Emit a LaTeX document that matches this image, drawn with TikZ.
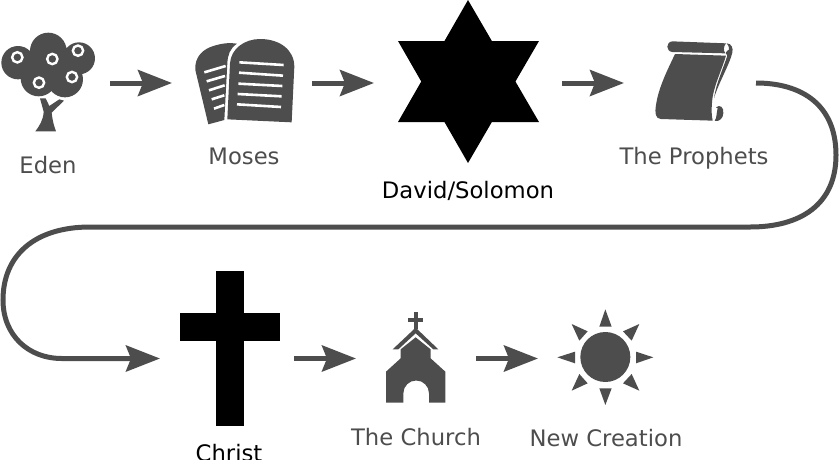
\documentclass[tikz,border=0pt]{standalone}
\usepackage{fontspec}
\setmainfont{DejaVu Sans}
\usetikzlibrary{arrows.meta}
\definecolor{ink}{HTML}{4D4D4D}
\tikzset{
  slot/.style={inner sep=0pt,outer sep=0pt,minimum height=2pt,minimum width=#1},
  flow/.style={draw=ink,line width=5pt,-{Stealth[length=34pt,width=26pt,inset=5pt]}},
  lab/.style={anchor=base,inner sep=0pt,text=ink,font=\fontsize{22.7}{26}\selectfont},
  blab/.style={lab,text=black},
  zoomA/.style={shift={(#1)},x=0.3333pt,y=-0.3333pt},
  gap/.style={draw=white,line width=2.6pt,line cap=butt},
  ring/.style={draw=white,fill=ink,line width=2.4pt}
}
\begin{document}
\begin{tikzpicture}[x=1pt,y=-1pt]
\useasboundingbox (0,0) rectangle (840,459);
% anchor slots for the connectors
\node[slot=124] (eden) at (48,83) {};
\node[slot=140] (moses) at (242,83) {};
\node[slot=188] (david) at (468,83) {};
\node[slot=132] (prophets) at (690,83) {};
\node[slot=134] (christ) at (227,358.5) {};
\node[slot=120] (church) at (416,358.5) {};
\node[slot=134] (newc) at (605,358.5) {};
% tree
\begin{scope}[zoomA={0,20}]
  \fill[ink] (145,93) circle (55) (54,128) circle (50) (237,115) circle (48)
    (116,175) circle (54) (195,178) circle (54) (145,130) circle (60);
  \fill[ink] (120,235) -- (137,235) -- (148,258) -- (178,238) -- (192,242) -- (155,278)
    .. controls (157,300) and (162,318) .. (168,334) -- (106,334)
    .. controls (118,318) and (130,300) .. (131,275) -- cycle;
  \draw[ring] (52,112) circle (15.5) (157,117) circle (15.5) (234,92) circle (15.5)
    (117,188) circle (15.5) (216,171) circle (15.5);
\end{scope}
% tablets
\begin{scope}[zoomA={185,25}]
  \fill[ink] (70,298) -- (31,135) .. controls (28,95) and (55,72) .. (85,63)
    .. controls (110,55) and (135,52) .. (156,56)
    .. controls (135,70) and (128,90) .. (127,115) -- (118,285) -- cycle;
  \fill[ink] (127,283) -- (135,115) .. controls (138,70) and (180,42) .. (225,42)
    .. controls (285,42) and (328,75) .. (328,125) -- (320,292) -- cycle;
  \draw[gap] (163,112) -- (296,120) (162,143) -- (294,152) (160,176) -- (292,183)
    (158,207) -- (290,214) (156,238) -- (288,246);
  \draw[gap] (58,142) -- (122,123) (65,169) -- (120,153) (72,196) -- (119,181)
    (80,223) -- (118,211) (87,251) -- (118,240);
\end{scope}
% star
\fill[black] (468,0) -- (539,122) -- (398,122) -- cycle;
\fill[black] (468,163) -- (398,41) -- (539,41) -- cycle;
% scroll
\begin{scope}[zoomA={640,30}]
  \fill[ink] (97,34) -- (258,40) .. controls (250,50) and (250,62) .. (256,70) -- (97,66)
    .. controls (77,64) and (77,36) .. (97,34) -- cycle;
  \fill[ink] (105,72) -- (258,77) .. controls (245,120) and (225,160) .. (218,200)
    .. controls (214,230) and (214,255) .. (218,272) -- (62,267)
    .. controls (46,265) and (44,250) .. (48,225)
    .. controls (56,170) and (85,115) .. (105,72) -- cycle;
  % upper curl
  \fill[ink] (260,40) .. controls (275,40) and (280,55) .. (277,68)
    .. controls (268,105) and (235,160) .. (222,205)
    .. controls (228,160) and (250,115) .. (262,77)
    .. controls (255,72) and (256,65) .. (262,62)
    .. controls (270,62) and (268,48) .. (260,40) -- cycle;
  % lower curl
  \fill[ink] (228,232) .. controls (240,222) and (252,232) .. (250,250)
    .. controls (249,266) and (238,275) .. (224,273)
    .. controls (231,262) and (229,250) .. (232,240)
    .. controls (236,236) and (232,233) .. (228,232) -- cycle;
  \fill[ink] (233,250) .. controls (238,245) and (243,250) .. (241,256)
    .. controls (238,262) and (232,258) .. (233,250) -- cycle;
\end{scope}
% cross
\fill[black] (216,271) rectangle (244,426);
\fill[black] (180,313) rectangle (280,341);
% church
\begin{scope}[zoomA={370,305}]
  \fill[ink] (131,22) rectangle (143,72);
  \fill[ink] (115,38) rectangle (160,50);
  \fill[ink] (68,133) -- (137,68) -- (205,133) -- (190,133) -- (137,85) -- (85,133) -- cycle;
  \fill[ink] (48,293) -- (48,200) -- (92,160) -- (92,133) -- (137,97) -- (182,133)
    -- (182,160) -- (226,200) -- (226,293) -- (177,293) -- (177,265)
    arc[start angle=0,end angle=-180,x radius=38.5,y radius=38.5] -- (100,293) -- cycle;
\end{scope}
% sun
\begin{scope}[zoomA={550,300}]
  \fill[ink] (166,171) circle (75);
  \fill[ink] (166,28) -- (148,80) -- (185,80) -- cycle;
  \fill[ink] (310,172) -- (258,155) -- (258,190) -- cycle;
  \fill[ink] (166,315) -- (148,265) -- (185,265) -- cycle;
  \fill[ink] (22,172) -- (75,155) -- (75,190) -- cycle;
  \fill[ink] (268,72) -- (219,94) -- (245,122) -- cycle;
  \fill[ink] (65,72) -- (88,122) -- (113,94) -- cycle;
  \fill[ink] (268,272) -- (245,222) -- (219,250) -- cycle;
  \fill[ink] (65,272) -- (88,222) -- (113,250) -- cycle;
\end{scope}
% labels
\node[lab] (tEden) at (48,173) {Eden};
\node[lab] (tMoses) at (244,164) {Moses};
\node[blab] (tDavid) at (468,198) {David/Solomon};
\node[lab] (tProphets) at (694,164) {The Prophets};
\node[blab] (tChrist) at (229,461) {Christ};
\node[lab] (tChurch) at (416,445) {The Church};
\node[lab] (tNew) at (606,446) {New Creation};
% connectors
\draw[flow] (eden.east) -- (moses.west);
\draw[flow] (moses.east) -- (david.west);
\draw[flow] (david.east) -- (prophets.west);
\draw[flow] (christ.east) -- (church.west);
\draw[flow] (church.east) -- (newc.west);
\draw[flow] (prophets.east) .. controls (802,83) and (836,105) .. (836,155)
  .. controls (836,205) and (800,227) .. (750,227)
  -- (90,227) .. controls (35,227) and (3,255) .. (3,300)
  .. controls (3,335) and (28,358.5) .. (62,358.5) -- (christ.west);
\end{tikzpicture}
\end{document}
